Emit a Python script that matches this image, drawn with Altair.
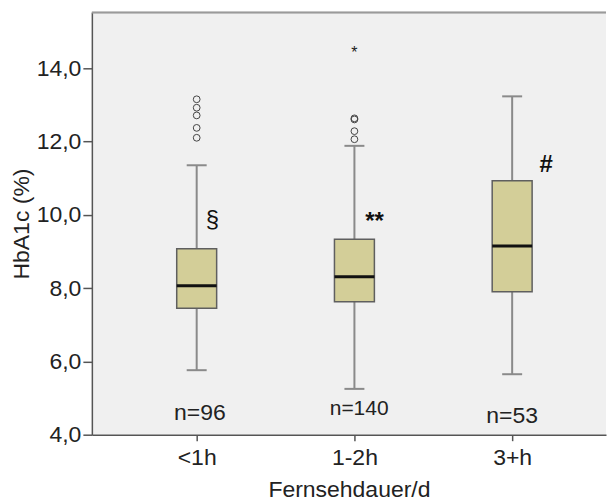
import altair as alt
import pandas as pd

# ---- data ----
groups = ["<1h", "1-2h", "3+h"]
group_pos = [0, 1, 2]
lower_whisker = [5.76, 5.25, 5.65]
q1 = [7.45, 7.63, 7.90]
median = [8.06, 8.31, 9.15]
q3 = [9.07, 9.33, 10.93]
upper_whisker = [11.35, 11.88, 13.23]

outlier_pos = [0, 0, 0, 0, 0, 1, 1, 1, 1]
outlier_value = [13.15, 12.92, 12.71, 12.37, 12.10, 12.60, 12.63, 12.28, 12.06]
extreme_pos = [1]
extreme_value = [14.51]

n_labels = ["n=96", "n=140", "n=53"]
n_pos = [0.02, 1.03, 2.0]
n_value = [4.60, 4.71, 4.50]

sig_labels = ["§", "**", "#"]
sig_pos = [0.10, 1.127, 2.215]
sig_value = [9.86, 9.80, 11.36]

y_ticks = [4, 6, 8, 10, 12, 14]

# ---- tables ----
box_df = pd.DataFrame({
    "pos": group_pos, "group": groups, "lw": lower_whisker, "q1": q1,
    "med": median, "q3": q3, "uw": upper_whisker,
})
out_df = pd.DataFrame({"pos": outlier_pos, "v": outlier_value})
ext_df = pd.DataFrame({"pos": extreme_pos, "v": extreme_value})
n_df = pd.DataFrame({"pos": n_pos, "v": n_value, "label": n_labels})
sig_df = pd.DataFrame({"pos": sig_pos, "v": sig_value, "label": sig_labels})

FONT = "Liberation Sans"
W, H = 515, 423
px_per_unit = 158.0
x_dom = [-105 / px_per_unit, (W - 105) / px_per_unit]
xscale = alt.Scale(domain=x_dom, nice=False, zero=False)
yscale = alt.Scale(domain=[4, 15.52], nice=False, zero=False)

label_expr = " : ".join(
    f"datum.value == {p} ? '{g}'" for p, g in zip(group_pos, groups)
) + " : ''"

x_axis = alt.Axis(
    title="Fernsehdauer/d", values=group_pos, labelExpr=label_expr, grid=False,
    tickSize=6, labelPadding=6, titlePadding=9,
)
y_axis = alt.Axis(
    title="HbA1c (%)", values=y_ticks, labelExpr="replace(format(datum.value, '.1f'), '.', ',')",
    grid=False, tickSize=9, labelPadding=2, titlePadding=3,
)

def X(field):
    return alt.X(f"{field}:Q", scale=xscale, axis=x_axis)

def Y(field):
    return alt.Y(f"{field}:Q", scale=yscale, axis=y_axis)

half_box = 20 / px_per_unit
half_cap = 10 / px_per_unit

base = alt.Chart(box_df).transform_calculate(
    bl=f"datum.pos - {half_box}", br=f"datum.pos + {half_box}",
    cl=f"datum.pos - {half_cap}", cr=f"datum.pos + {half_cap}",
)

whisker = base.mark_rule(color="#8a8a8a", strokeWidth=2).encode(
    x=X("pos"), y=Y("lw"), y2="uw:Q"
)
cap_low = base.mark_rule(color="#8a8a8a", strokeWidth=2).encode(
    x=X("cl"), x2="cr:Q", y=Y("lw")
)
cap_high = base.mark_rule(color="#8a8a8a", strokeWidth=2).encode(
    x=X("cl"), x2="cr:Q", y=Y("uw")
)
box = base.mark_rect(fill="#D3CE98", stroke="#5f5f5f", strokeWidth=1.5).encode(
    x=X("bl"), x2="br:Q", y=Y("q1"), y2="q3:Q"
)
med = base.mark_rule(color="#111111", strokeWidth=3).encode(
    x=X("bl"), x2="br:Q", y=Y("med")
)

outliers = alt.Chart(out_df).mark_point(
    shape="circle", filled=False, size=46, stroke="#444444", strokeWidth=1, opacity=1
).encode(x=X("pos"), y=Y("v"))

extremes = alt.Chart(ext_df).mark_text(
    text="*", fontSize=16, font=FONT, color="#222222", baseline="middle", dy=4
).encode(x=X("pos"), y=Y("v"))

n_text = alt.Chart(n_df).mark_text(
    font=FONT, color="#222222", baseline="middle", align="center"
).encode(
    x=X("pos"), y=Y("v"), text="label:N",
    size=alt.condition(alt.datum.label == "n=140", alt.value(21), alt.value(23)),
)

sig_plain = alt.Chart(sig_df).transform_filter(alt.datum.label == "§").mark_text(
    font=FONT, color="#111111", baseline="middle", align="center", fontSize=24
).encode(x=X("pos"), y=Y("v"), text="label:N")

sig_bold = alt.Chart(sig_df).transform_filter(alt.datum.label != "§").mark_text(
    font=FONT, color="#111111", baseline="middle", align="center", fontSize=24,
    fontWeight="bold",
).encode(x=X("pos"), y=Y("v"), text="label:N")

top_border = alt.Chart(box_df).mark_rule(color="#9a9a9a", strokeWidth=1.5).encode(
    x=alt.value(0), x2=alt.value(W), y=alt.value(0)
)

chart = alt.layer(
    whisker, cap_low, cap_high, box, med, outliers, extremes, n_text,
    sig_plain, sig_bold, top_border
).properties(
    width=W, height=H,
    padding={"left": 2, "top": 3, "right": 0, "bottom": 0},
).configure_view(
    fill="#F0F0F0", stroke=None
).configure_axis(
    labelFont=FONT, titleFont=FONT, labelFontSize=23, titleFontSize=23,
    labelColor="#222222", titleColor="#222222", titleFontWeight="normal",
    domainColor="#555555", tickColor="#555555", domainWidth=1.5, tickWidth=1.5,
)

chart.save("out.html", embed_options={"renderer": "svg", "actions": False})
